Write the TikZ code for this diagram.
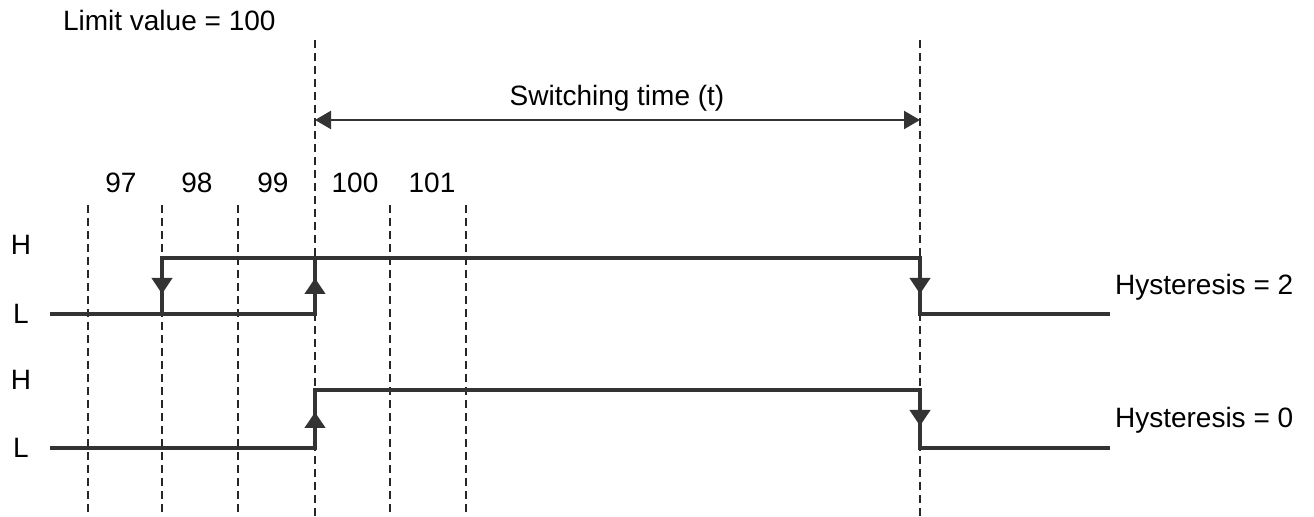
\documentclass[tikz,border=0pt]{standalone}
\usepackage{fontspec}
\setmainfont{Liberation Sans}
\usetikzlibrary{arrows.meta}
\begin{document}
\begin{tikzpicture}[x=0.5pt,y=-0.5pt,font=\fontsize{14}{16}\selectfont,
    sig/.style={line width=2pt,color=black!80,line join=miter},
    grid/.style={dash pattern=on 4pt off 2.5pt,line width=0.8pt,color=black!85},
    tip/.style={-{Triangle[length=8pt,width=10pt]}}]
    \useasboundingbox (0,0) rectangle (1314,517);
    % grid lines
    \draw[grid] (88,205) -- (88,517);
    \draw[grid] (162,205) -- (162,517);
    \draw[grid] (238,205) -- (238,517);
    \draw[grid] (315,40) -- (315,517);
    \draw[grid] (390,205) -- (390,517);
    \draw[grid] (466,205) -- (466,517);
    \draw[grid] (920,40) -- (920,517);
    % labels
    \node[anchor=base west] (limit) at (56,31) {Limit value = 100};
    \node[anchor=base] (v97) at (121,193) {97};
    \node[anchor=base] (v98) at (197,193) {98};
    \node[anchor=base] (v99) at (273,193) {99};
    \node[anchor=base] (v100) at (355,193) {100};
    \node[anchor=base] (v101) at (432,193) {101};
    \node[anchor=base] (switch) at (617,106) {Switching time (t)};
    \node[anchor=base] (h1) at (21,255) {H};
    \node[anchor=base] (l1) at (21,324) {L};
    \node[anchor=base] (h2) at (21,390) {H};
    \node[anchor=base] (l2) at (21,458) {L};
    \node[anchor=base west] (hyst2) at (1108,295) {Hysteresis = 2};
    \node[anchor=base west] (hyst0) at (1108,428) {Hysteresis = 0};
    % switching time
    \coordinate (ts) at (315,120);
    \coordinate (te) at (920,120);
    \draw[line width=1.1pt,color=black!80,{Triangle[length=8pt,width=9pt]}-{Triangle[length=8pt,width=9pt]}] (ts) -- (te);
    % signal with hysteresis 2
    \draw[sig] (50,314) -- (315,314) -- (315,258);
    \draw[sig] (162,314) -- (162,258) -- (920,258) -- (920,314) -- (1110,314);
    \draw[sig,tip] (162,258) -- (162,294);
    \draw[sig,tip] (315,314) -- (315,278);
    \draw[sig,tip] (920,258) -- (920,294);
    % signal with hysteresis 0
    \draw[sig] (50,448) -- (315,448) -- (315,390) -- (920,390) -- (920,448) -- (1110,448);
    \draw[sig,tip] (315,448) -- (315,412);
    \draw[sig,tip] (920,390) -- (920,426);
\end{tikzpicture}
\end{document}
